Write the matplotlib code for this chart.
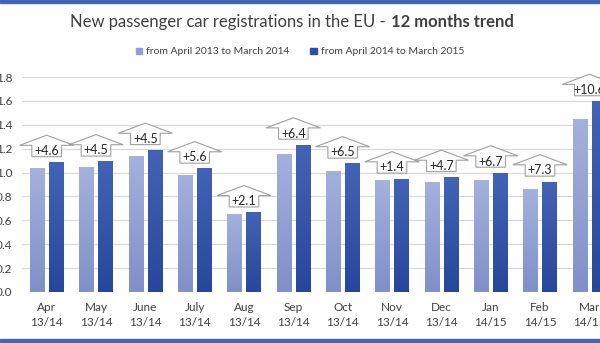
import numpy as np
import matplotlib.pyplot as plt
from matplotlib.colors import LinearSegmentedColormap
from matplotlib.patches import Polygon, Rectangle

plt.rcParams['font.family'] = ['Lato', 'DejaVu Sans']

months = ['Apr', 'May', 'June', 'July', 'Aug', 'Sep', 'Oct', 'Nov', 'Dec', 'Jan', 'Feb', 'Mar']
seasons = ['13/14'] * 9 + ['14/15'] * 3
prev_year = [1.04, 1.046, 1.138, 0.979, 0.653, 1.158, 1.010, 0.937, 0.920, 0.937, 0.862, 1.445]
this_year = [1.088, 1.093, 1.189, 1.034, 0.667, 1.234, 1.076, 0.950, 0.963, 1.000, 0.925, 1.598]
growth = ['+4.6', '+4.5', '+4.5', '+5.6', '+2.1', '+6.4', '+6.5', '+1.4', '+4.7', '+6.7', '+7.3', '+10.6']

light = '#8e9fd5'
dark = '#2f4fa3'
text_col = '#404040'
band = '#4466b0'

fig = plt.figure(figsize=(6, 3.43), dpi=100)
ax = fig.add_axes([22 / 600, 1 - 292 / 343, 592 / 600, (292 - 77) / 343])

x = list(range(len(months)))
w = 0.29
bars1 = ax.bar([i - 0.19 for i in x], prev_year, width=w, color=light, zorder=2)
bars2 = ax.bar([i + 0.19 for i in x], this_year, width=w, color=dark, zorder=2)

# vertical gradient fill, lighter at the top of each bar
grad = np.linspace(0, 1, 64).reshape(-1, 1)
cm_light = LinearSegmentedColormap.from_list('l', ['#8090c8', '#a4b1dd'])
cm_dark = LinearSegmentedColormap.from_list('d', ['#27479c', '#4363b6'])
for bars, cm in ((bars1, cm_light), (bars2, cm_dark)):
    for b in bars:
        x0, h = b.get_x(), b.get_height()
        im = ax.imshow(grad, cmap=cm, origin='lower', aspect='auto', zorder=2.5,
                       extent=(x0, x0 + b.get_width(), 0, h))
        im.set_clip_path(b)

ax.set_xlim(-0.5, 11.5)
ax.set_ylim(0, 1.8)
ax.set_yticks([0.2 * k for k in range(10)])
ax.set_yticklabels(['%.1f' % (0.2 * k) for k in range(10)])
ax.grid(axis='y', color='#d9d9d9', lw=0.8, zorder=0)
ax.set_xticks(x)
ax.set_xticklabels(['%s\n%s' % (m, s) for m, s in zip(months, seasons)],
                   linespacing=1.5)
ax.tick_params(axis='x', length=0, pad=7, labelsize=8.5, labelcolor=text_col)
ax.tick_params(axis='y', length=0, pad=7, labelsize=8.5, labelcolor=text_col)
for s in ax.spines.values():
    s.set_visible(False)

# up-arrow callouts with the growth rate
gap, box_h, roof_h = 0.045, 0.095, 0.085
box_w, roof_w = 0.30, 0.55
for i, g in enumerate(growth):
    base = max(prev_year[i], this_year[i]) + gap
    top = base + box_h
    pts = [(i - box_w, base), (i + box_w, base), (i + box_w, top),
           (i + roof_w, top), (i, top + roof_h), (i - roof_w, top),
           (i - box_w, top)]
    ax.add_patch(Polygon(pts, closed=True, facecolor='white', edgecolor='#a0a0a0',
                         lw=0.8, zorder=3, clip_on=False))
    ax.text(i, base + box_h / 2, g, ha='center', va='center', fontsize=9,
            color='#262626', zorder=4, clip_on=False)

# title
fig.text(386 / 600, 1 - 22 / 343, 'New passenger car registrations in the EU -',
         ha='right', va='center', fontsize=12, color='#404040')
fig.text(391 / 600, 1 - 22 / 343, '12 months trend', ha='left', va='center',
         fontsize=12, color='#404040', fontweight='bold')

handles = [Rectangle((0, 0), 1, 1, color=light), Rectangle((0, 0), 1, 1, color=dark)]
fig.legend(handles, ['from April 2013 to March 2014', 'from April 2014 to March 2015'],
           loc='center', bbox_to_anchor=(300 / 600, 1 - 52 / 343), ncol=2,
           frameon=False, fontsize=7.5, handlelength=0.6, handleheight=0.6,
           handletextpad=0.4, columnspacing=2.0, labelcolor=text_col)

# blue bands along top and bottom edges
fig.add_artist(Rectangle((0, 1 - 3 / 343), 1, 3 / 343, transform=fig.transFigure,
                         color=band, zorder=5))
fig.add_artist(Rectangle((0, 0), 1, 4 / 343, transform=fig.transFigure,
                         color=band, zorder=5))

fig.savefig('out.png', dpi=100)
